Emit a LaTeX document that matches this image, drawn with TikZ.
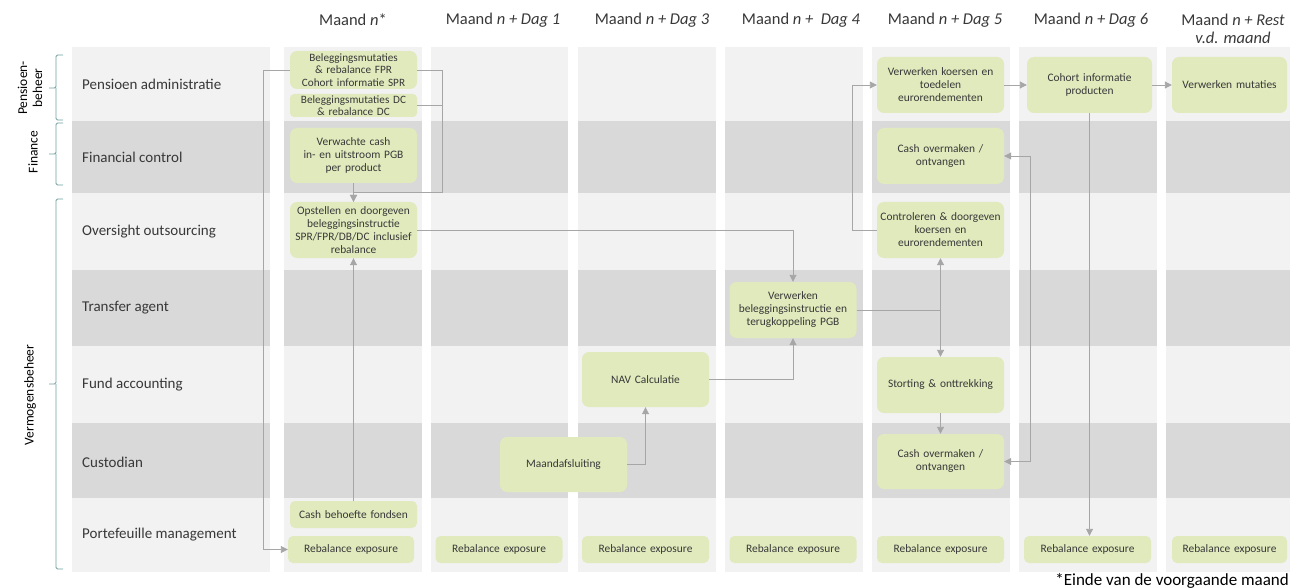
\documentclass[tikz,border=0pt]{standalone}
\usepackage{fontspec}
\setmainfont{Carlito}
\usetikzlibrary{arrows.meta}
\definecolor{lightbg}{HTML}{F2F2F2}
\definecolor{darkbg}{HTML}{D9D9D9}
\definecolor{boxg}{HTML}{E0EABD}
\definecolor{txt}{HTML}{383838}
\definecolor{lin}{HTML}{A6A6A6}
\definecolor{brk}{HTML}{6E9E9E}
\tikzset{
  gbox/.style={fill=boxg, rounded corners=7pt, align=center, text=txt,
    font=\fontsize{11.4}{13}\selectfont, inner xsep=1pt, inner ysep=0pt,
    text width=125pt, minimum width=127pt},
  rowlabel/.style={anchor=west, text=txt, font=\fontsize{15}{17}\selectfont, inner sep=0pt},
  colhead/.style={text=txt, font=\fontsize{16.5}{18}\selectfont, inner sep=0pt, align=center},
  grouplabel/.style={text=black, font=\fontsize{13.5}{15}\selectfont, rotate=90, align=center, inner sep=0pt},
  conn/.style={draw=lin, line width=0.9pt},
  arr/.style={conn, -{Triangle[length=7pt,width=7pt]}},
  darr/.style={conn, {Triangle[length=7pt,width=7pt]}-{Triangle[length=7pt,width=7pt]}},
  bracket/.style={draw=brk, line width=0.9pt, rounded corners=1.5pt}
}
\begin{document}
\begin{tikzpicture}[x=1pt,y=-1pt]
\useasboundingbox (0,0) rectangle (1290,588);
% backgrounds
\foreach \ya/\yb/\c in {47/121/lightbg,121/193/darkbg,193/270/lightbg,270/346/darkbg,346/423/lightbg,423/498/darkbg,498/572/lightbg}{
  \foreach \xa/\xb in {72/270,284/422,431/568,578/716,725/863,872/1010,1019/1157,1166/1290}{
    \fill[\c] (\xa,\ya) rectangle (\xb,\yb);
  }
}
% column headers
\node[colhead] (h1) at (353,20) {Maand \textit{n}*};
\node[colhead] (h2) at (503,20) {Maand \textit{n + Dag 1}};
\node[colhead] (h3) at (652,20) {Maand \textit{n + Dag 3}};
\node[colhead] (h4) at (801,20) {Maand \textit{n +\ \ Dag 4}};
\node[colhead] (h5) at (945,20) {Maand \textit{n + Dag 5}};
\node[colhead] (h6) at (1091,20) {Maand \textit{n + Dag 6}};
\node[colhead] (h7) at (1233,29) {Maand \textit{n + Rest}\\\textit{v.d. maand}};
% row labels
\node[rowlabel] (l1) at (82,84) {Pensioen administratie};
\node[rowlabel] (l2) at (82,157) {Financial control};
\node[rowlabel] (l3) at (82,232) {Oversight outsourcing};
\node[rowlabel] (l4) at (82,308) {Transfer agent};
\node[rowlabel] (l5) at (82,385) {Fund accounting};
\node[rowlabel] (l6) at (82,462) {Custodian};
\node[rowlabel] (l7) at (82,535) {Portefeuille management};
% group labels and brackets
\node[grouplabel] (g1) at (30,88) {Pensioen-\\beheer};
\node[grouplabel] (g2) at (33,152) {Finance};
\node[grouplabel] (g3) at (30,395) {Vermogensbeheer};
\draw[bracket] (63,55) -- (56,55) -- (56,88) -- (49,88) (56,88) -- (56,120) -- (63,120);
\draw[bracket] (63,123) -- (56,123) -- (56,154) -- (49,154) (56,154) -- (56,185) -- (63,185);
\draw[bracket] (63,199) -- (56,199) -- (56,384) -- (49,384) (56,384) -- (56,569) -- (63,569);
% boxes column 1
\node[gbox, minimum height=38pt, font=\fontsize{11.2}{12.5}\selectfont] (b1) at (353.5,70) {Beleggingsmutaties\\\& rebalance FPR\\Cohort informatie SPR};
\node[gbox, minimum height=23pt, rounded corners=4pt, font=\fontsize{11.2}{12.3}\selectfont] (b2) at (353.5,105.5) {Beleggingsmutaties DC\\\& rebalance DC};
\node[gbox, minimum height=55pt] (b3) at (353.5,155.5) {Verwachte cash\\in- en uitstroom PGB\\per product};
\node[gbox, minimum height=56pt] (b4) at (353.5,230) {Opstellen en doorgeven\\beleggingsinstructie\\SPR/FPR/DB/DC inclusief\\rebalance};
\node[gbox, minimum height=27pt, rounded corners=5pt] (b5) at (353.5,514.5) {Cash behoefte fondsen};
\node[gbox, minimum height=27pt, rounded corners=5pt, minimum width=126pt, text width=124pt] (r1) at (351,549.5) {Rebalance exposure};
% column 2/3
\node[gbox, minimum height=55pt] (ma) at (563.5,464.5) {Maandafsluiting};
\node[gbox, minimum height=27pt, rounded corners=5pt] (r2) at (499,549.5) {Rebalance exposure};
\node[gbox, minimum height=55pt] (nav) at (645.5,379.5) {NAV Calculatie};
\node[gbox, minimum height=27pt, rounded corners=5pt] (r3) at (645.5,549.5) {Rebalance exposure};
% column 4
\node[gbox, minimum height=56pt] (vb) at (793,310) {Verwerken\\beleggingsinstructie en\\terugkoppeling PGB};
\node[gbox, minimum height=27pt, rounded corners=5pt] (r4) at (793,549.5) {Rebalance exposure};
% column 5
\node[gbox, minimum height=56pt] (vk) at (940.5,85) {Verwerken koersen en\\toedelen\\eurorendementen};
\node[gbox, minimum height=56pt] (co1) at (940.5,156) {Cash overmaken /\\ontvangen};
\node[gbox, minimum height=56pt] (cd) at (940.5,230) {Controleren \& doorgeven\\koersen en\\eurorendementen};
\node[gbox, minimum height=56pt] (st) at (940.5,385) {Storting \& onttrekking};
\node[gbox, minimum height=55pt] (co2) at (940.5,461.5) {Cash overmaken /\\ontvangen};
\node[gbox, minimum height=27pt, rounded corners=5pt] (r5) at (940.5,549.5) {Rebalance exposure};
% column 6
\node[gbox, minimum height=56pt, minimum width=125pt, text width=123pt] (ch) at (1089.5,85) {Cohort informatie\\producten};
\node[gbox, minimum height=27pt, rounded corners=5pt] (r6) at (1087.5,549.5) {Rebalance exposure};
% column 7
\node[gbox, minimum height=56pt, minimum width=115pt, text width=113pt] (vm) at (1229.5,85) {Verwerken mutaties};
\node[gbox, minimum height=27pt, rounded corners=5pt, minimum width=115pt, text width=113pt] (r7) at (1229.5,549.5) {Rebalance exposure};
% footnote
\node[anchor=east, text=black, font=\fontsize{17}{19}\selectfont, inner sep=0pt] (fn) at (1289,581) {*Einde van de voorgaande maand};
% connectors
\coordinate (j1) at (442,192);
\draw[arr] (b1.west) -- ++(-26,0) |- (r1.west);
\draw[arr] (b1.east) -| (j1) -| (b4.north);
\draw[conn] (b2.east) -| (j1);
\draw[arr] (b3.south) -- (b4.north);
\draw[arr] (b5.north) -- (b4.south);
\draw[arr] (b4.east) -| (vb.north);
\draw[arr] (ma.east) -| (nav.south);
\draw[arr] (nav.east) -| (vb.south);
\draw[arr] (vb.east) -| (cd.south);
\draw[arr] (vb.east) -| (st.north);
\draw[arr] (st.south) -- (co2.north);
\draw[arr] (cd.west) -- ++(-24,0) |- (vk.west);
\draw[arr] (vk.east) -- (ch.west);
\draw[arr] (ch.east) -- (vm.west);
\draw[arr] (ch.south) -- (ch.south |- r6.north);
\draw[darr] (co1.east) -- ++(26,0) |- (co2.east);
\end{tikzpicture}
\end{document}
